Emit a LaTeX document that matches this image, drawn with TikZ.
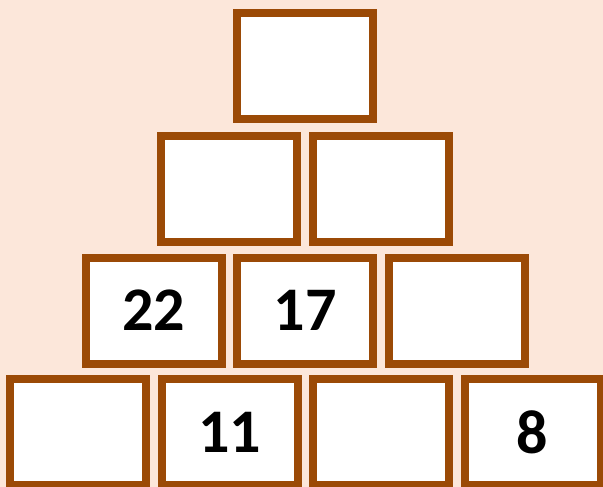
\documentclass[tikz,border=0pt]{standalone}
\usepackage{fontspec}
\setmainfont{Carlito}
\usetikzlibrary{positioning}
\definecolor{boxbrown}{HTML}{9B4A06}
\definecolor{bgpeach}{HTML}{FCE7DA}

\begin{document}
\begin{tikzpicture}[
  x=1pt, y=-1pt,
  cell/.style={rectangle, draw=boxbrown, fill=white, line width=8pt, minimum width=136pt, minimum height=106pt, inner sep=0pt, font=\fontsize{62}{62}\selectfont\bfseries}
]
  \useasboundingbox (0,0) rectangle (603,487);
  \fill[bgpeach] (0,0) rectangle (603,487);

  % top row
  \node[cell] (b11) at (305,66) {};
  % second row
  \node[cell] (b21) at (229,189) {};
  \node[cell, right=7.5pt of b21] (b22) {};
  % third row
  \node[cell] (b31) at (153.5,310.5) {\raisebox{-3pt}{22}};
  \node[cell, right=7.5pt of b31] (b32) {\raisebox{-3pt}{17}};
  \node[cell, right=7.5pt of b32] (b33) {};
  % bottom row
  \node[cell] (b41) at (78,432) {};
  \node[cell, right=7.5pt of b41] (b42) {\raisebox{-3pt}{11}};
  \node[cell, right=7.5pt of b42] (b43) {};
  \node[cell, right=7.5pt of b43] (b44) {\raisebox{-3pt}{8}};
\end{tikzpicture}
\end{document}
